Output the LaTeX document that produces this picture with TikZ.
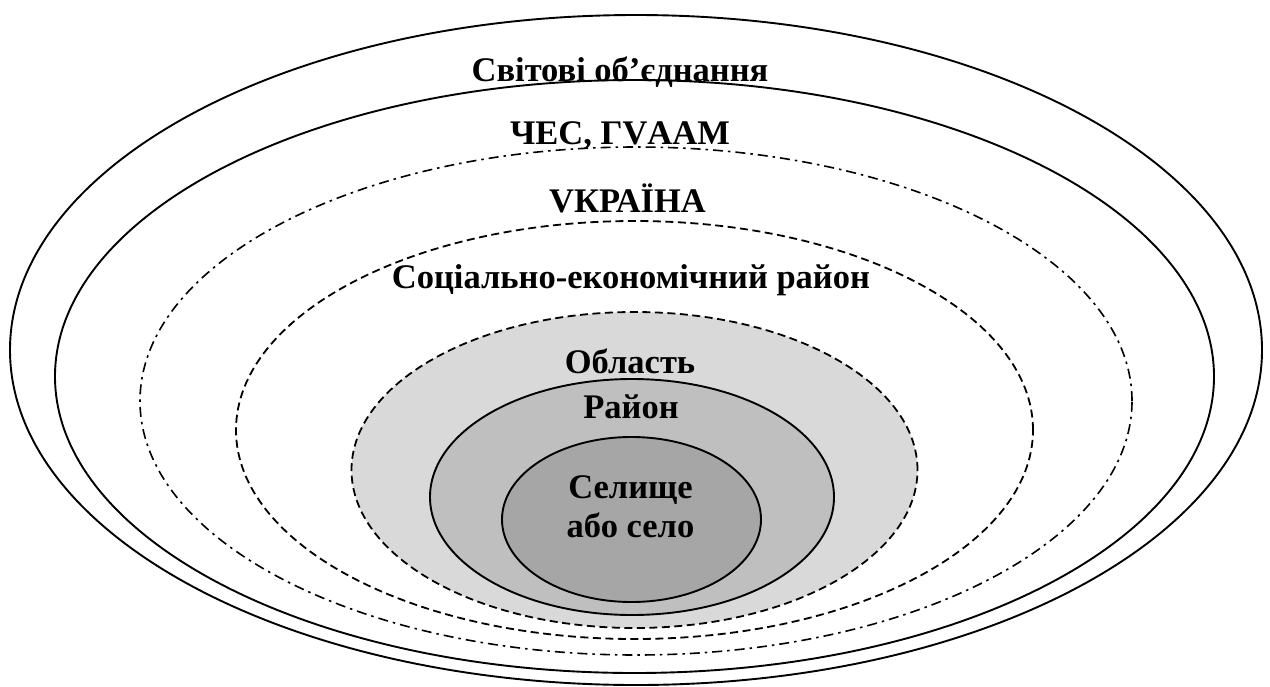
\documentclass[tikz,border=0pt]{standalone}
\usepackage{fontspec}
\setmainfont{Liberation Serif}
\tikzset{
  ring/.style={line width=1.9pt},
  dashring/.style={line width=1.8pt, dash pattern=on 8pt off 4.5pt},
  dotring/.style={line width=1.6pt, dash pattern=on 10pt off 5pt on 2.5pt off 5pt},
  lbl/.style={font=\fontsize{34.5}{39}\selectfont\bfseries, anchor=base, inner sep=0pt}
}
\begin{document}
\begin{tikzpicture}[x=1pt,y=-1pt]
\useasboundingbox (0,0) rectangle (1270,686);
\fill[white] (0,0) rectangle (1270,686);
% ellipses, outermost first
\draw[ring] (636,350) ellipse [x radius=626pt, y radius=335pt];
\draw[ring] (634.5,376.5) ellipse [x radius=579.5pt, y radius=296.5pt];
\draw[dotring] (636,401) ellipse [x radius=496pt, y radius=254pt];
\draw[dashring] (634.5,430) ellipse [x radius=398.5pt, y radius=209pt];
\fill[black!15] (634.5,470) ellipse [x radius=283pt, y radius=158pt];
\draw[dashring] (634.5,470) ellipse [x radius=283pt, y radius=158pt];
\draw[ring, fill=black!25] (632,497) ellipse [x radius=202pt, y radius=118pt];
\draw[ring, fill=black!35] (631.5,519.5) ellipse [x radius=129.5pt, y radius=82.5pt];
% labels
\node[lbl] (world) at (620,81) {Світові об’єднання};
\node[lbl] (bsec) at (620,144) {ЧЕС, ГVААМ};
\node[lbl] (ukr) at (627.5,212) {VКРАЇНА};
\node[lbl] (ser) at (631,288) {Соціально-економічний район};
\node[lbl] (obl) at (630,373) {Область};
\node[lbl] (ray) at (631,418) {Район};
\node[lbl, anchor=center, align=center] (sel) at (630.5,507) {Селище\\або село};
\end{tikzpicture}
\end{document}
